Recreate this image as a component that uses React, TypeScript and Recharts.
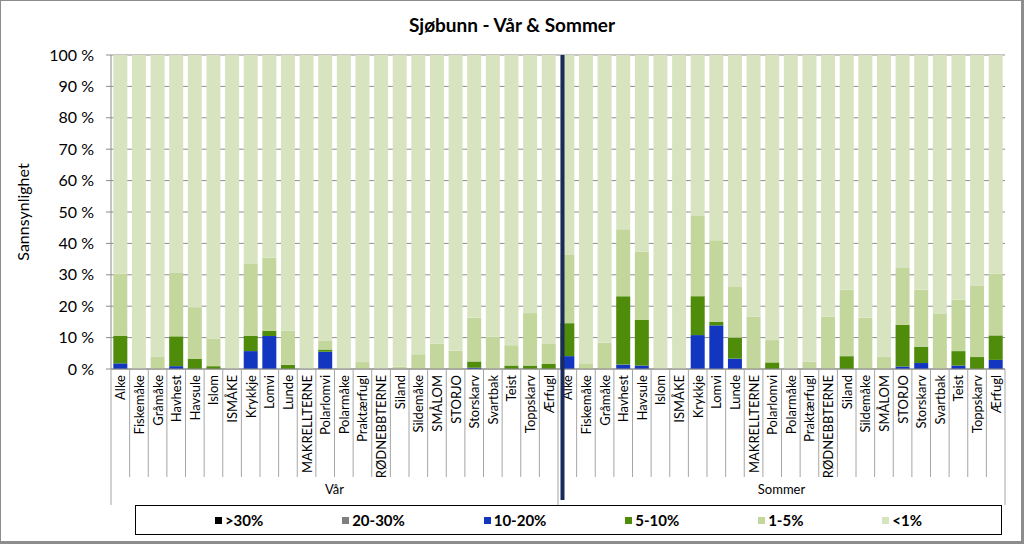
import { BarChart, Bar, XAxis, YAxis, CartesianGrid, Legend } from "recharts";

const species = [
  "Alke", "Fiskemåke", "Gråmåke", "Havhest", "Havsule", "Islom", "ISMÅKE", "Krykkje",
  "Lomvi", "Lunde", "MAKRELLTERNE", "Polarlomvi", "Polarmåke", "Praktærfugl", "RØDNEBBTERNE",
  "Siland", "Sildemåke", "SMÅLOM", "STORJO", "Storskarv", "Svartbak", "Teist", "Toppskarv", "Ærfugl",
];
const seasons = ["Vår", "Sommer"];

// Vår
const varOver30 = [0, 0, 0, 0, 0, 0, 0, 0, 0, 0, 0, 0, 0, 0, 0, 0, 0, 0, 0, 0, 0, 0, 0, 0];
const var20to30 = [0, 0, 0, 0, 0, 0, 0, 0, 0, 0, 0, 0, 0, 0, 0, 0, 0, 0, 0, 0, 0, 0, 0, 0];
const var10to20 = [1.8, 0, 0, 0.9, 0, 0, 0, 5.7, 10.5, 0, 0, 5.5, 0, 0, 0, 0, 0, 0, 0, 0.4, 0, 0, 0, 0];
const var5to10 = [8.8, 0, 0, 9.5, 3.3, 0.9, 0, 4.9, 1.7, 1.3, 0, 0.7, 0, 0, 0, 0, 0, 0, 0, 2.0, 0, 1.1, 1.1, 1.6];
const var1to5 = [19.8, 0, 4, 20.2, 16.4, 8.8, 0, 22.8, 23.2, 10.9, 0, 2.9, 0, 2.2, 0, 0.7, 4.7, 8.1, 5.8, 13.9, 10.3, 6.5, 16.7, 6.4];
const varUnder1 = [69.6, 100, 96, 69.4, 80.3, 90.3, 100, 66.6, 64.6, 87.8, 100, 90.9, 100, 97.8, 100, 99.3, 95.3, 91.9, 94.2, 83.7, 89.7, 92.4, 82.2, 92.0];

// Sommer
const somOver30 = [0, 0, 0, 0, 0, 0, 0, 0, 0, 0, 0, 0, 0, 0, 0, 0, 0, 0, 0, 0, 0, 0, 0, 0];
const som20to30 = [0, 0, 0, 0, 0, 0, 0, 0, 0, 0, 0, 0, 0, 0, 0, 0, 0, 0, 0, 0, 0, 0, 0, 0];
const som10to20 = [4.1, 0, 0, 1.4, 1.1, 0, 0, 10.8, 13.9, 3.3, 0, 0, 0, 0, 0, 0, 0, 0, 0.8, 1.9, 0, 1.1, 0, 2.9];
const som5to10 = [10.5, 0, 0, 21.8, 14.5, 0, 0, 12.4, 1.1, 6.7, 0, 2.1, 0, 0, 0, 4.1, 0, 0, 13.3, 5.2, 0, 4.6, 3.8, 7.8];
const som1to5 = [21.7, 1.8, 8.4, 21.3, 21.8, 0, 0, 25.5, 26, 16.1, 16.7, 7.1, 0, 2.3, 16.7, 21.1, 16.3, 3.8, 18.1, 18.1, 17.7, 16.4, 22.6, 19.7];
const somUnder1 = [63.7, 98.2, 91.6, 55.5, 62.6, 100, 100, 51.3, 59.0, 73.9, 83.3, 90.8, 100, 97.7, 83.3, 74.8, 83.7, 96.2, 67.8, 74.8, 82.3, 77.9, 73.6, 69.6];

const yTicks = [0, 10, 20, 30, 40, 50, 60, 70, 80, 90, 100];

const series = [
  { key: "over30", label: ">30%", color: "#000000" },
  { key: "p20to30", label: "20-30%", color: "#7f7f7f" },
  { key: "p10to20", label: "10-20%", color: "#1236bf" },
  { key: "p5to10", label: "5-10%", color: "#4e8c0a" },
  { key: "p1to5", label: "1-5%", color: "#c3d69b" },
  { key: "under1", label: "<1%", color: "#d8e4bf" },
];

const bySeason = [
  [varOver30, var20to30, var10to20, var5to10, var1to5, varUnder1],
  [somOver30, som20to30, som10to20, som5to10, som1to5, somUnder1],
];

const data = seasons.flatMap((season, s) =>
  species.map((name, i) => {
    const row: Record<string, string | number> = { id: `${s}-${name}`, name, season };
    series.forEach((ser, k) => {
      row[ser.key] = bySeason[s][k][i];
    });
    return row;
  })
);

const FONT = "Lato, 'Noto Sans', sans-serif";
const PLOT_TOP = 55;
const PLOT_LEFT = 111;
const PLOT_RIGHT = 1005;
const PLOT_H = 314;
const N = data.length;
const BAND = (PLOT_RIGHT - PLOT_LEFT) / N;
const LINE = "#a6a6a6";

function CategoryTick(props: any) {
  const { x, y, index } = props;
  const lx = x - BAND / 2;
  const groupEdge = index % species.length === 0;
  return (
    <g>
      <line x1={lx} x2={lx} y1={y} y2={y + (groupEdge ? 136 : 108)} stroke={LINE} />
      {index === N - 1 && (
        <line x1={x + BAND / 2} x2={x + BAND / 2} y1={y} y2={y + 136} stroke={LINE} />
      )}
      <text
        transform={`translate(${x + 5},${y + 6}) rotate(-90)`}
        textAnchor="end"
        fontSize={13}
        fontFamily={FONT}
        fill="#000"
      >
        {data[index]?.name}
      </text>
      {index === species.length && (
        <rect x={lx + 2.5} y={y - PLOT_H} width={4} height={PLOT_H + 131} fill="#1b2a5c" />
      )}
    </g>
  );
}

function SeasonTick(props: any) {
  const { x, y, payload } = props;
  return (
    <text x={x} y={y + 10} textAnchor="middle" dominantBaseline="central" fontSize={13} fontFamily={FONT} fill="#000">
      {payload.value}
    </text>
  );
}

function LegendBox() {
  return (
    <div
      style={{
        boxSizing: "border-box",
        width: "100%",
        height: "100%",
        border: "1.5px solid #000",
        display: "flex",
        alignItems: "center",
        justifyContent: "space-evenly",
        fontFamily: FONT,
        fontWeight: 700,
        fontSize: 15,
        background: "#fff",
      }}
    >
      {series.map((s) => (
        <div key={s.key} style={{ display: "flex", alignItems: "center" }}>
          <span style={{ width: 7, height: 7, background: s.color, marginRight: 3 }} />
          <span>{s.label}</span>
        </div>
      ))}
    </div>
  );
}

export default function App() {
  return (
    <div style={{ position: "absolute", left: 0, top: 0, width: 1024, height: 544, background: "#fff" }}>
      <div
        style={{
          position: "absolute",
          top: 13,
          left: 0,
          width: 1024,
          textAlign: "center",
          fontFamily: FONT,
          fontWeight: 700,
          fontSize: 19,
          color: "#000",
        }}
      >
        Sjøbunn - Vår &amp; Sommer
      </div>
      <BarChart
        width={1024}
        height={544}
        data={data}
        margin={{ top: PLOT_TOP, right: 1024 - PLOT_RIGHT, bottom: 0, left: 0 }}
        barCategoryGap="12.5%"
      >
        <CartesianGrid vertical={false} stroke="#8c8c8c" />
        <YAxis
          width={PLOT_LEFT}
          domain={[0, 100]}
          ticks={yTicks}
          tickFormatter={(v) => `${v} %`}
          tick={{ fontSize: 16, fill: "#000", fontFamily: FONT }}
          tickSize={5}
          tickMargin={12}
          stroke="#8c8c8c"
          interval={0}
          label={{
            content: (p: any) => {
              const vb = p.viewBox;
              const cy = vb.y + vb.height / 2;
              return (
                <text
                  transform={`translate(22,${cy}) rotate(-90)`}
                  textAnchor="middle"
                  dominantBaseline="central"
                  fontSize={16}
                  fontFamily={FONT}
                  fill="#000"
                >
                  Sannsynlighet
                </text>
              );
            },
          }}
        />
        {series.map((s) => (
          <Bar key={s.key} dataKey={s.key} name={s.label} stackId="a" fill={s.color} isAnimationActive={false} />
        ))}
        <XAxis
          dataKey="id"
          interval={0}
          height={110}
          tickSize={0}
          tickMargin={0}
          tickLine={false}
          stroke="#8c8c8c"
          tick={<CategoryTick />}
        />
        <XAxis
          xAxisId="g"
          dataKey="season"
          allowDuplicatedCategory={false}
          height={65}
          tickSize={0}
          tickMargin={0}
          tickLine={false}
          axisLine={false}
          tick={<SeasonTick />}
        />
        <Legend
          layout="horizontal"
          verticalAlign="middle"
          align="center"
          wrapperStyle={{ position: "absolute", left: 135, top: 505, width: 867, height: 30 }}
          content={() => <LegendBox />}
        />
      </BarChart>
      <div
        style={{
          position: "absolute",
          left: 0,
          top: 0,
          width: 1024,
          height: 544,
          boxSizing: "border-box",
          border: "1px solid #8c8c8c",
          borderRightWidth: 3,
          borderBottomWidth: 3,
          pointerEvents: "none",
        }}
      />
    </div>
  );
}
